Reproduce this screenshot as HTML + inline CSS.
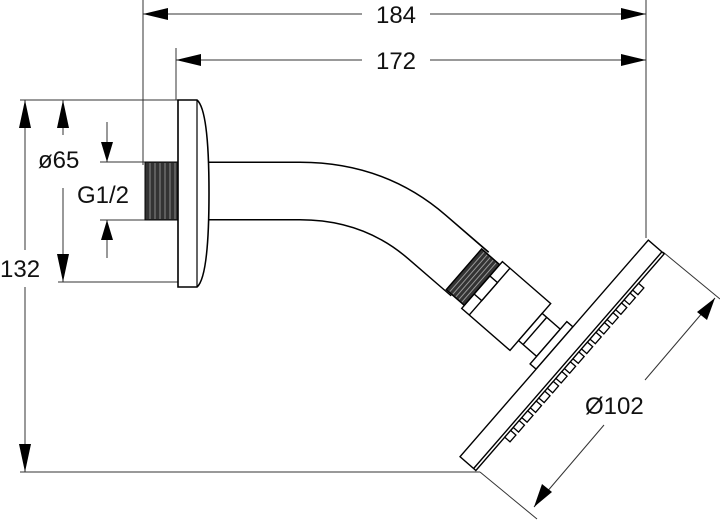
<!DOCTYPE html>
<html><head><style>html,body{margin:0;padding:0;background:#fff}svg{display:block}text{font-family:"Liberation Sans",sans-serif;font-size:24px;fill:#111}</style></head>
<body>
<svg width="720" height="520" viewBox="0 0 720 520" xmlns="http://www.w3.org/2000/svg">
<g stroke="#333" stroke-width="1" fill="none">
<line x1="143" y1="0" x2="143" y2="165"/>
<line x1="646" y1="0" x2="646" y2="238"/>
<line x1="176" y1="48" x2="176" y2="100"/>
<line x1="20" y1="100" x2="178" y2="100"/>
<line x1="58" y1="282" x2="178" y2="282"/>
<line x1="100" y1="162" x2="145" y2="162"/>
<line x1="100" y1="220" x2="145" y2="220"/>
<line x1="20" y1="472" x2="480" y2="472"/>
<line x1="143" y1="14" x2="362" y2="14"/><line x1="430" y1="14" x2="646" y2="14"/>
<line x1="176" y1="60" x2="362" y2="60"/><line x1="430" y1="60" x2="646" y2="60"/>
<line x1="25" y1="100" x2="25" y2="250"/><line x1="25" y1="287" x2="25" y2="472"/>
<line x1="63" y1="100" x2="63" y2="135"/><line x1="63" y1="188" x2="63" y2="282"/>
<line x1="107" y1="122" x2="107" y2="162"/><line x1="107" y1="220" x2="107" y2="258"/>
<line x1="663" y1="252" x2="720" y2="299"/>
<line x1="480" y1="472" x2="537" y2="519"/>
<line x1="715" y1="298" x2="645" y2="380"/>
<line x1="604" y1="425" x2="534" y2="507"/>
</g>
<g fill="#000">
<polygon points="143,14 168,8 168,20"/><polygon points="646,14 621,8 621,20"/>
<polygon points="176,60 201,54 201,66"/><polygon points="646,60 621,54 621,66"/>
<polygon points="25,100 19,128 31,128"/><polygon points="25,472 19,444 31,444"/>
<polygon points="63,100 57,128 69,128"/><polygon points="63,282 57,254 69,254"/>
<polygon points="107,162 101,142 113,142"/><polygon points="107,220 101,240 113,240"/>
<polygon points="715,298 697,312 707,320"/><polygon points="534,507 542,484 552,492"/>
</g>
<text x="396" y="23" text-anchor="middle">184</text>
<text x="396" y="69" text-anchor="middle">172</text>
<text x="38" y="168">ø65</text>
<text x="77" y="203">G1/2</text>
<text x="0" y="277">132</text>
<text x="585" y="414">Ø102</text>
<path d="M205 191 L300 191 Q374 191 427 237 L470 274" stroke="#000" stroke-width="59" fill="none"/>
<path d="M205 191 L300 191 Q374 191 427 237 L472 276" stroke="#fff" stroke-width="56" fill="none"/>
<rect x="145" y="162" width="33" height="58" fill="#333" stroke="#000"/>
<g stroke="#888" stroke-width="1">
<line x1="150" y1="163" x2="150" y2="219"/><line x1="155" y1="163" x2="155" y2="219"/><line x1="160" y1="163" x2="160" y2="219"/><line x1="165" y1="163" x2="165" y2="219"/><line x1="170" y1="163" x2="170" y2="219"/><line x1="175" y1="163" x2="175" y2="219"/>
</g>
<path d="M178 100 L197 100 Q209 110 209 193 Q209 277 197 287 L178 287 Z" fill="#fff" stroke="#000" stroke-width="1.6"/>
<line x1="197" y1="100" x2="197" y2="287" stroke="#000" stroke-width="1.2"/>
<g transform="translate(554.5,348) rotate(41)" stroke="#000" stroke-width="1.4" fill="#fff">
<rect x="-120" y="-27" width="24" height="54" fill="#333"/>
<g stroke="#999" stroke-width="1"><line x1="-116" y1="-26" x2="-116" y2="26"/><line x1="-112" y1="-26" x2="-112" y2="26"/><line x1="-108" y1="-26" x2="-108" y2="26"/><line x1="-104" y1="-26" x2="-104" y2="26"/><line x1="-100" y1="-26" x2="-100" y2="26"/></g>
<rect x="-96" y="-31" width="64" height="62"/>
<line x1="-86" y1="-31" x2="-86" y2="31"/>
<rect x="-96" y="-12" width="10" height="24"/>
<rect x="-32" y="-18" width="24" height="36"/>
<line x1="-26" y1="-18" x2="-26" y2="18"/>
<rect x="-8" y="-28" width="8" height="56"/>
<rect x="0" y="-143" width="21" height="287"/>
<line x1="18" y1="-143" x2="18" y2="144"/>
<g stroke-width="1.3">
<rect x="21" y="-104" width="7" height="9"/><rect x="21" y="-91" width="7" height="9"/><rect x="21" y="-78" width="7" height="9"/><rect x="21" y="-65" width="7" height="9"/><rect x="21" y="-52" width="7" height="9"/><rect x="21" y="-39" width="7" height="9"/><rect x="21" y="-26" width="7" height="9"/><rect x="21" y="-13" width="7" height="9"/><rect x="21" y="0" width="7" height="9"/><rect x="21" y="13" width="7" height="9"/><rect x="21" y="26" width="7" height="9"/><rect x="21" y="39" width="7" height="9"/><rect x="21" y="52" width="7" height="9"/><rect x="21" y="65" width="7" height="9"/><rect x="21" y="78" width="7" height="9"/><rect x="21" y="91" width="7" height="9"/>
</g>
</g>
</svg>
</body></html>
